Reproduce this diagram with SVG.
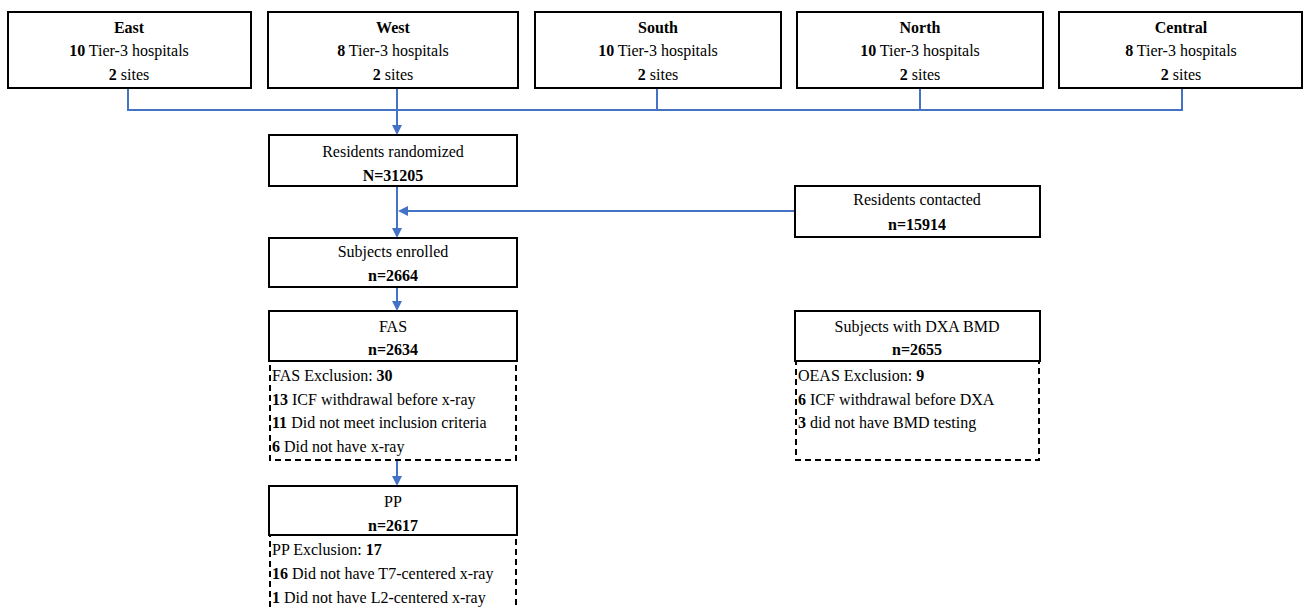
<svg xmlns="http://www.w3.org/2000/svg" width="1306" height="607" viewBox="0 0 1306 607">
<defs>
<marker id="ah" markerWidth="10" markerHeight="10" refX="8" refY="5" orient="auto" markerUnits="userSpaceOnUse">
<path d="M0,0 L10,5 L0,10 Z" fill="#4472C4"/>
</marker>
<style>
.box{fill:#fff;stroke:#000;stroke-width:2}
.dash{fill:none;stroke:#000;stroke-width:2;stroke-dasharray:6,4}
text{font-family:'Liberation Serif','Times New Roman','DejaVu Serif',serif;font-size:16px;fill:#000}
.c{text-anchor:middle}
.b{font-weight:bold}
.ln{fill:none;stroke:#4472C4;stroke-width:2}
</style>
</defs>
<rect width="1306" height="607" fill="#fff"/>
<g id="connectors">
<polyline class="ln" points="128,88 128,110 1182,110 1182,88"/>
<line class="ln" x1="657" y1="88" x2="657" y2="110"/>
<line class="ln" x1="920" y1="88" x2="920" y2="110"/>
<line class="ln" x1="397" y1="88" x2="397" y2="133" marker-end="url(#ah)"/>
<line class="ln" x1="397" y1="186" x2="397" y2="236" marker-end="url(#ah)"/>
<line class="ln" x1="795" y1="211" x2="400" y2="211" marker-end="url(#ah)"/>
<line class="ln" x1="397" y1="287" x2="397" y2="309" marker-end="url(#ah)"/>
<line class="ln" x1="397" y1="460" x2="397" y2="484" marker-end="url(#ah)"/>
</g>
<g id="east" font-family="Liberation Serif, serif">
<rect class="box" x="8" y="12" width="243" height="76"/>
<text class="c b" x="129" y="33">East</text>
<text class="c" x="129" y="56"><tspan class="b">10</tspan> Tier-3 hospitals</text>
<text class="c" x="129" y="80"><tspan class="b">2</tspan> sites</text>
</g>
<g id="west">
<rect class="box" x="268" y="12" width="250" height="76"/>
<text class="c b" x="393" y="33">West</text>
<text class="c" x="393" y="56"><tspan class="b">8</tspan> Tier-3 hospitals</text>
<text class="c" x="393" y="80"><tspan class="b">2</tspan> sites</text>
</g>
<g id="south">
<rect class="box" x="535" y="12" width="246" height="76"/>
<text class="c b" x="658" y="33">South</text>
<text class="c" x="658" y="56"><tspan class="b">10</tspan> Tier-3 hospitals</text>
<text class="c" x="658" y="80"><tspan class="b">2</tspan> sites</text>
</g>
<g id="north">
<rect class="box" x="797" y="12" width="246" height="76"/>
<text class="c b" x="920" y="33">North</text>
<text class="c" x="920" y="56"><tspan class="b">10</tspan> Tier-3 hospitals</text>
<text class="c" x="920" y="80"><tspan class="b">2</tspan> sites</text>
</g>
<g id="central">
<rect class="box" x="1059" y="12" width="243" height="76"/>
<text class="c b" x="1181" y="33">Central</text>
<text class="c" x="1181" y="56"><tspan class="b">8</tspan> Tier-3 hospitals</text>
<text class="c" x="1181" y="80"><tspan class="b">2</tspan> sites</text>
</g>
<g id="randomized">
<rect class="box" x="269" y="135" width="248" height="51"/>
<text class="c" x="393" y="157">Residents randomized</text>
<text class="c b" x="393" y="181">N=31205</text>
</g>
<g id="contacted">
<rect class="box" x="795" y="186" width="245" height="51"/>
<text class="c" x="917" y="205">Residents contacted</text>
<text class="c b" x="917" y="230">n=15914</text>
</g>
<g id="enrolled">
<rect class="box" x="269" y="238" width="248" height="49"/>
<text class="c" x="393" y="257">Subjects enrolled</text>
<text class="c b" x="393" y="281">n=2664</text>
</g>
<g id="fas">
<rect class="box" x="269" y="311" width="248" height="50"/>
<text class="c" x="393" y="332">FAS</text>
<text class="c b" x="393" y="355">n=2634</text>
<rect class="dash" x="270" y="361" width="246" height="99"/>
<text x="272" y="381">FAS Exclusion: <tspan class="b">30</tspan></text>
<text x="272" y="405"><tspan class="b">13</tspan> ICF withdrawal before x-ray</text>
<text x="272" y="428"><tspan class="b">11</tspan> Did not meet inclusion criteria</text>
<text x="272" y="452"><tspan class="b">6</tspan> Did not have x-ray</text>
</g>
<g id="pp">
<rect class="box" x="269" y="486" width="248" height="49"/>
<text class="c" x="393" y="507">PP</text>
<text class="c b" x="393" y="531">n=2617</text>
<rect class="dash" x="270" y="535" width="246" height="80"/>
<text x="272" y="555">PP Exclusion: <tspan class="b">17</tspan></text>
<text x="272" y="579"><tspan class="b">16</tspan> Did not have T7-centered x-ray</text>
<text x="272" y="603"><tspan class="b">1</tspan> Did not have L2-centered x-ray</text>
</g>
<g id="dxa">
<rect class="box" x="795" y="311" width="245" height="50"/>
<text class="c" x="917" y="332">Subjects with DXA BMD</text>
<text class="c b" x="917" y="355">n=2655</text>
<rect class="dash" x="796" y="361" width="243" height="99"/>
<text x="798" y="381">OEAS Exclusion: <tspan class="b">9</tspan></text>
<text x="798" y="405"><tspan class="b">6</tspan> ICF withdrawal before DXA</text>
<text x="798" y="428"><tspan class="b">3</tspan> did not have BMD testing</text>
</g>
</svg>
